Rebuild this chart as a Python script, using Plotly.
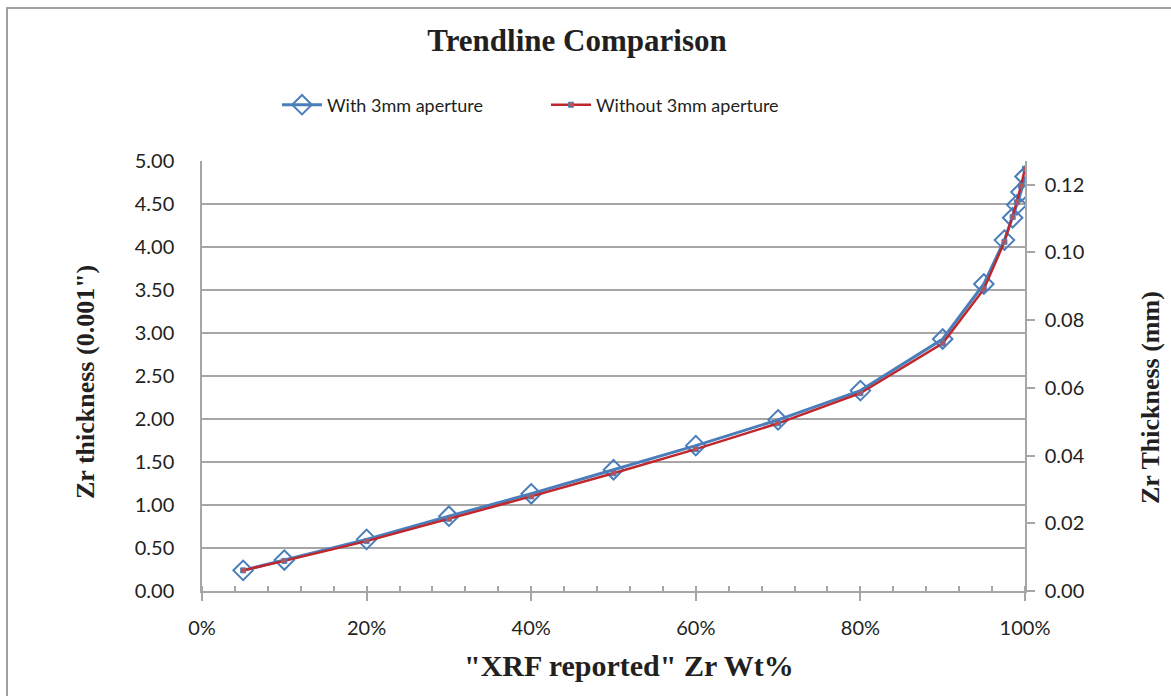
import plotly.graph_objects as go

# Data
wt_pct = [5, 10, 20, 30, 40, 50, 60, 70, 80, 90, 95, 97.5, 98.5, 99, 99.5, 100]
with_aperture = [0.24, 0.36, 0.60, 0.87, 1.13, 1.41, 1.69, 1.99, 2.33, 2.93, 3.57, 4.08, 4.34, 4.49, 4.64, 4.82]
without_aperture = [0.24, 0.35, 0.58, 0.84, 1.10, 1.37, 1.65, 1.95, 2.30, 2.88, 3.51, 4.06, 4.35, 4.52, 4.71, 4.91]

x_ticks = [0, 20, 40, 60, 80, 100]
x_ticklabels = ["0%", "20%", "40%", "60%", "80%", "100%"]
y_ticks = [0, 0.5, 1, 1.5, 2, 2.5, 3, 3.5, 4, 4.5, 5]
y2_ticks = [0, 0.02, 0.04, 0.06, 0.08, 0.10, 0.12]

BLUE = "#4a7ebb"
RED = "#c0272d"
GRID = "#a6a6a6"
TXT = "#231f20"
SANS = "Lato, 'Open Sans', sans-serif"
SERIF = "'Liberation Serif', 'Times New Roman', serif"

W, H = 1171, 696
L, R, T, B = 202, 146, 161, 105
PW, PH = W - L - R, H - T - B  # 823 x 430


def px_to_paper_x(px):
    return (px - L) / PW


def px_to_paper_y(py):
    return 1 - (py - T) / PH


fig = go.Figure()
fig.add_trace(go.Scatter(
    x=wt_pct, y=with_aperture, mode="lines+markers", name="With 3mm aperture",
    line=dict(color=BLUE, width=3),
    marker=dict(symbol="diamond-open", size=15, color=BLUE, line=dict(width=2, color=BLUE)),
))
fig.add_trace(go.Scatter(
    x=wt_pct, y=without_aperture, mode="lines+markers", name="Without 3mm aperture",
    line=dict(color=RED, width=2.5),
    marker=dict(symbol="square", size=5, color="#c0504d", line=dict(width=1, color=BLUE)),
))
# invisible trace to carry the secondary (mm) axis
fig.add_trace(go.Scatter(
    x=[wt_pct[0]], y=[with_aperture[0] * 0.0254], yaxis="y2", mode="markers",
    marker=dict(opacity=0), showlegend=False, hoverinfo="skip",
))

fig.update_layout(
    width=W, height=H,
    margin=dict(l=L, r=R, t=T, b=B),
    paper_bgcolor="white", plot_bgcolor="white",
    title=dict(text="<b>Trendline Comparison</b>", x=px_to_paper_x(577), xref="paper", xanchor="center",
               y=1 - 40 / H, yanchor="middle",
               font=dict(family=SERIF, size=31, color=TXT)),
    legend=dict(orientation="h", x=px_to_paper_x(546), xanchor="center",
                y=px_to_paper_y(105), yanchor="middle",
                font=dict(family=SANS, size=18, color=TXT), entrywidth=214, itemwidth=40,
                bgcolor="rgba(0,0,0,0)"),
    xaxis=dict(
        range=[0, 100], tickvals=x_ticks, ticktext=x_ticklabels,
        showgrid=False, zeroline=False,
        showline=True, linecolor=GRID, linewidth=1.5,
        ticks="outside", ticklen=8, tickcolor=GRID, tickwidth=1.5,
        minor=dict(dtick=4, tick0=0, ticks="inside", ticklen=5, tickcolor=GRID, tickwidth=1.5),
        tickfont=dict(family=SANS, size=20, color=TXT), ticklabelstandoff=10,
    ),
    yaxis=dict(
        range=[0, 5], tickvals=y_ticks, tickformat=".2f",
        showgrid=True, gridcolor=GRID, gridwidth=1.5, zeroline=False,
        showline=True, linecolor=GRID, linewidth=1.5, ticks="",
        tickfont=dict(family=SANS, size=20, color=TXT), ticklabelstandoff=22,
    ),
    yaxis2=dict(
        range=[0, 5 * 0.0254], tickvals=y2_ticks, tickformat=".2f",
        overlaying="y", side="right", showgrid=False, zeroline=False,
        showline=True, linecolor=GRID, linewidth=1.5,
        ticks="outside", ticklen=8, tickcolor=GRID, tickwidth=1.5,
        tickfont=dict(family=SANS, size=20, color=TXT), ticklabelstandoff=6,
    ),
    showlegend=True,
)

# axis titles placed as annotations to match the reference positions
fig.add_annotation(text='<b>"XRF reported" Zr Wt%</b>', xref="paper", yref="paper",
                   x=px_to_paper_x(629), y=px_to_paper_y(665), xanchor="center", yanchor="middle",
                   showarrow=False, font=dict(family=SERIF, size=30, color=TXT))
fig.add_annotation(text='<b>Zr thickness (0.001")</b>', xref="paper", yref="paper",
                   x=px_to_paper_x(85), y=px_to_paper_y(382), xanchor="center", yanchor="middle",
                   textangle=-90, showarrow=False, font=dict(family=SERIF, size=26, color=TXT))
fig.add_annotation(text="<b>Zr Thickness (mm)</b>", xref="paper", yref="paper",
                   x=px_to_paper_x(1150), y=px_to_paper_y(398), xanchor="center", yanchor="middle",
                   textangle=-90, showarrow=False, font=dict(family=SERIF, size=26, color=TXT))

# outer chart border (extends past the bottom/right edge in the reference)
fig.add_shape(type="rect", xref="paper", yref="paper",
              x0=px_to_paper_x(7), x1=px_to_paper_x(1200),
              y0=px_to_paper_y(720), y1=px_to_paper_y(8),
              line=dict(color="#a0a0a0", width=2), fillcolor="rgba(0,0,0,0)", layer="below")

fig.write_html("out.html", config={"displayModeBar": False},
               post_script="document.body.style.margin='0';")
